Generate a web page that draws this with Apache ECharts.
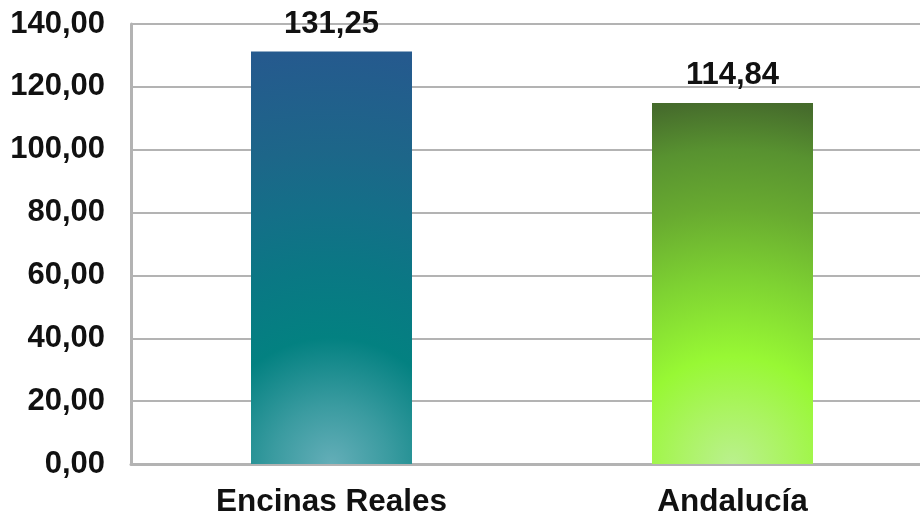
<!DOCTYPE html>
<html>
<head>
<meta charset="utf-8">
<script src="https://cdn.jsdelivr.net/npm/echarts@6/dist/echarts.min.js"></script>
<style>html,body{margin:0;padding:0;background:#fff;overflow:hidden;}#c{width:933px;height:518px;}</style>
</head>
<body>
<div id="c"></div>
<script>
const categories = ['Encinas Reales', 'Andalucía'];
const values = [131.25, 114.84];
const yMin = 0, yMax = 140, yStep = 20;

function fmt(v) { return v.toFixed(2).replace('.', ','); }

const gradients = [
  new echarts.graphic.RadialGradient(0.5, 1, 2.61, [
    {offset: 0, color: '#64aeb8'},
    {offset: 0.14, color: '#3a9ba0'},
    {offset: 0.30, color: '#038181'},
    {offset: 0.46, color: '#0a7884'},
    {offset: 0.61, color: '#146f88'},
    {offset: 0.75, color: '#1d6689'},
    {offset: 0.98, color: '#255a8e'},
    {offset: 1, color: '#265a8e'}
  ]),
  new echarts.graphic.RadialGradient(0.5, 1, 2.3, [
    {offset: 0, color: '#baf08e'},
    {offset: 0.15, color: '#aaf460'},
    {offset: 0.29, color: '#98f834'},
    {offset: 0.5, color: '#7ed232'},
    {offset: 0.69, color: '#68aa30'},
    {offset: 0.85, color: '#589230'},
    {offset: 0.98, color: '#466c2c'},
    {offset: 1, color: '#456b2b'}
  ])
];

const font = 'Liberation Sans, Arial, sans-serif';
const chart = echarts.init(document.getElementById('c'), null, {renderer: 'canvas'});
chart.setOption({
  animation: false,
  backgroundColor: '#ffffff',
  grid: {left: 131, top: 24, right: 0, height: 441, containLabel: false},
  xAxis: {
    type: 'category',
    data: categories,
    axisLine: {show: true, lineStyle: {color: '#b3b3b3', width: 3}},
    axisTick: {show: false},
    axisLabel: {color: '#111', fontFamily: font, fontWeight: 'bold', fontSize: 31.5, margin: 22}
  },
  yAxis: {
    type: 'value',
    min: yMin, max: yMax, interval: yStep,
    axisLine: {show: true, lineStyle: {color: '#b3b3b3', width: 3}},
    axisTick: {show: false},
    splitLine: {show: true, lineStyle: {color: '#b3b3b3', width: 2}},
    axisLabel: {color: '#111', fontFamily: font, fontWeight: 'bold', fontSize: 31, margin: 26, formatter: fmt}
  },
  series: [{
    type: 'bar',
    barWidth: 161,
    data: values.map((v, i) => ({value: v, itemStyle: {color: gradients[i]}})),
    label: {
      show: true, position: 'top', distance: 12,
      color: '#111', fontFamily: font, fontWeight: 'bold', fontSize: 31,
      formatter: p => fmt(p.value)
    }
  }]
});
</script>
</body>
</html>
